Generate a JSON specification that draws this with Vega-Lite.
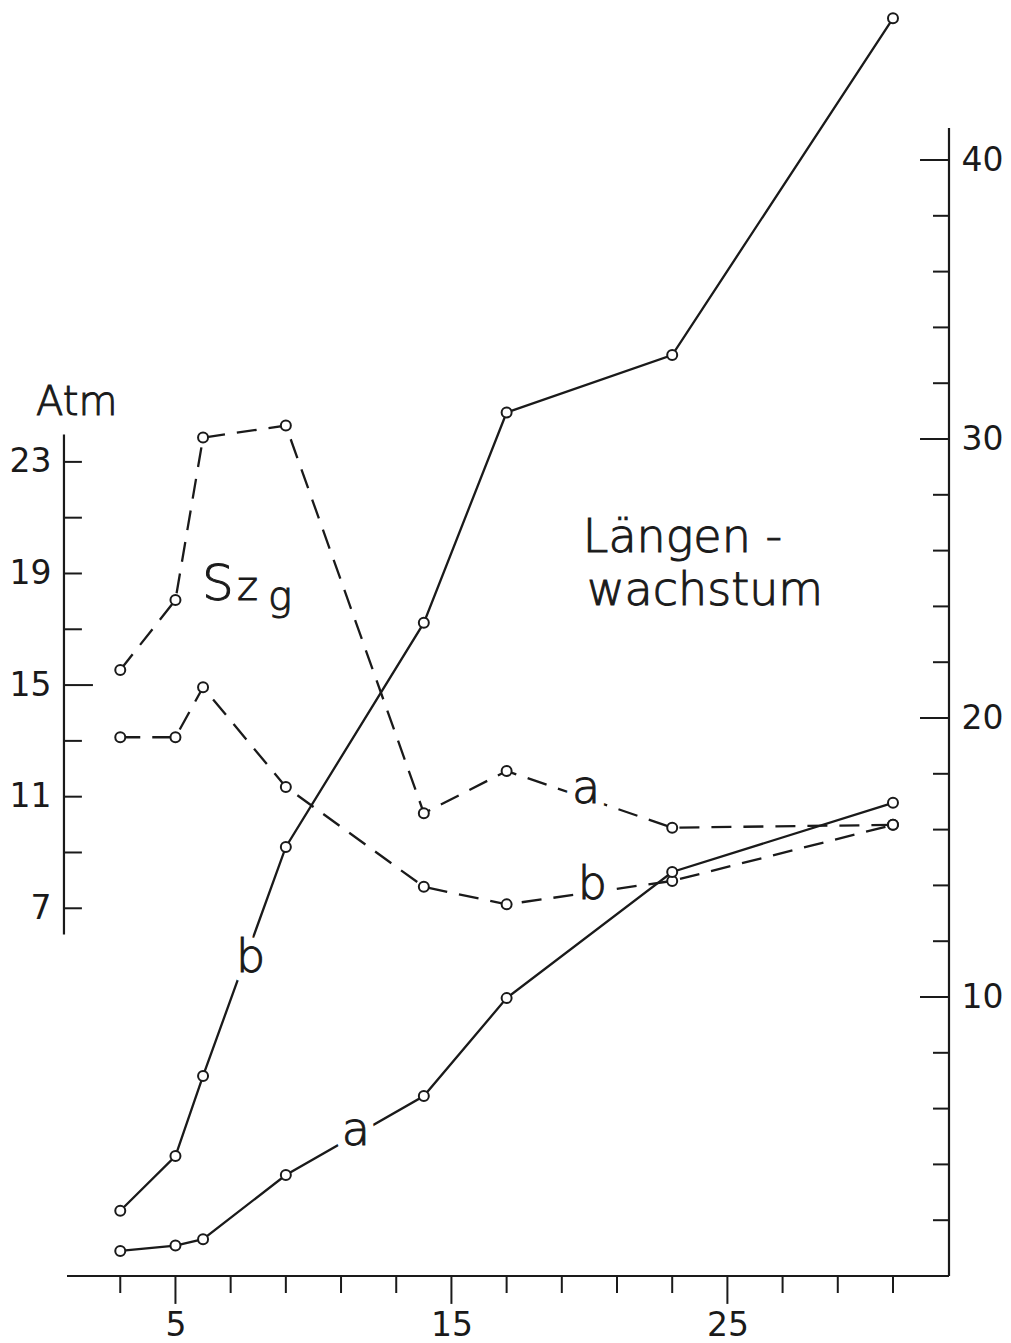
{
  "$schema": "https://vega.github.io/schema/vega-lite/v6.json",
  "autosize": {"type": "none"},
  "width": 882,
  "height": 1270,
  "padding": {"left": 67, "top": 6, "right": 62, "bottom": 67},
  "background": "#ffffff",
  "config": {
    "view": {"stroke": null},
    "axis": {"grid": false, "ticks": false, "tickSize": 0, "domain": false, "labelFont": "DejaVu Sans", "labelFontSize": 33, "labelFontWeight": 400, "labelColor": "#1a1a1a"}
  },
  "datasets": {
    "lw": [
      {"day": 3, "len": 0.90, "series": "a"}, {"day": 5, "len": 1.09, "series": "a"}, {"day": 6, "len": 1.32, "series": "a"}, {"day": 9, "len": 3.62, "series": "a"},
      {"day": 14, "len": 6.45, "series": "a"}, {"day": 17, "len": 9.96, "series": "a"}, {"day": 23, "len": 14.48, "series": "a"}, {"day": 31, "len": 16.96, "series": "a"},
      {"day": 3, "len": 2.34, "series": "b"}, {"day": 5, "len": 4.30, "series": "b"}, {"day": 6, "len": 7.17, "series": "b"}, {"day": 9, "len": 15.38, "series": "b"},
      {"day": 14, "len": 23.41, "series": "b"}, {"day": 17, "len": 30.95, "series": "b"}, {"day": 23, "len": 33.01, "series": "b"}, {"day": 31, "len": 45.08, "series": "b"}
    ],
    "szg": [
      {"day": 3, "atm": 15.54, "series": "a"}, {"day": 5, "atm": 18.05, "series": "a"}, {"day": 6, "atm": 23.87, "series": "a"}, {"day": 9, "atm": 24.30, "series": "a"},
      {"day": 14, "atm": 10.41, "series": "a"}, {"day": 17, "atm": 11.92, "series": "a"}, {"day": 23, "atm": 9.89, "series": "a"}, {"day": 31, "atm": 9.99, "series": "a"},
      {"day": 3, "atm": 13.13, "series": "b"}, {"day": 5, "atm": 13.13, "series": "b"}, {"day": 6, "atm": 14.92, "series": "b"}, {"day": 9, "atm": 11.35, "series": "b"},
      {"day": 14, "atm": 7.77, "series": "b"}, {"day": 17, "atm": 7.14, "series": "b"}, {"day": 23, "atm": 7.98, "series": "b"}, {"day": 31, "atm": 9.99, "series": "b"}
    ],
    "xt": [{"t": 3}, {"t": 5}, {"t": 7}, {"t": 9}, {"t": 11}, {"t": 13}, {"t": 15}, {"t": 17}, {"t": 19}, {"t": 21}, {"t": 23}, {"t": 25}, {"t": 27}, {"t": 29}, {"t": 31}],
    "rt": [{"t": 2}, {"t": 4}, {"t": 6}, {"t": 8}, {"t": 10}, {"t": 12}, {"t": 14}, {"t": 16}, {"t": 18}, {"t": 20}, {"t": 22}, {"t": 24}, {"t": 26}, {"t": 28}, {"t": 30}, {"t": 32}, {"t": 34}, {"t": 36}, {"t": 38}, {"t": 40}],
    "lt": [{"t": 7}, {"t": 9}, {"t": 11}, {"t": 13}, {"t": 15}, {"t": 17}, {"t": 19}, {"t": 21}, {"t": 23}],
    "notes": [
      {"label": "Atm", "x": -0.05, "y": 30.86},
      {"label": "S", "x": 5.96, "y": 24.23},
      {"label": "z", "x": 7.23, "y": 24.23},
      {"label": "g", "x": 8.35, "y": 23.87},
      {"label": "Längen -", "x": 19.76, "y": 25.95},
      {"label": "wachstum", "x": 19.91, "y": 24.05}
    ],
    "tags": [
      {"label": "a", "x": 19.37, "y": 16.95},
      {"label": "b", "x": 19.58, "y": 13.51},
      {"label": "b", "x": 7.19, "y": 10.90},
      {"label": "a", "x": 11.03, "y": 4.70}
    ]
  },
  "layer": [
    {
      "layer": [
        {
          "data": {"name": "szg"},
          "mark": {"type": "line", "strokeDash": [20, 12], "strokeWidth": 2.3, "color": "#1a1a1a"},
          "encoding": {
            "x": {"field": "day", "type": "quantitative", "scale": {"domain": [1.07, 33.03], "nice": false, "zero": false},
                  "axis": {"orient": "bottom", "values": [5, 15, 25], "labelPadding": 49, "labelBaseline": "middle", "title": null, "labelFlush": false, "labelOverlap": false}},
            "y": {"field": "atm", "type": "quantitative", "scale": {"domain": [-6.18, 39.34], "nice": false, "zero": false},
                  "axis": {"orient": "left", "values": [7, 11, 15, 19, 23], "labelPadding": 16, "labelBaseline": "middle", "title": null, "labelFlush": false, "labelOverlap": false}},
            "detail": {"field": "series"}
          }
        },
        {
          "data": {"name": "szg"},
          "mark": {"type": "point", "shape": "circle", "size": 100, "filled": true, "fill": "#ffffff", "stroke": "#1a1a1a", "strokeWidth": 2, "opacity": 1},
          "encoding": {
            "x": {"field": "day", "type": "quantitative", "scale": {"domain": [1.07, 33.03], "nice": false, "zero": false},
                  "axis": {"orient": "bottom", "values": [5, 15, 25], "labelPadding": 49, "labelBaseline": "middle", "title": null, "labelFlush": false, "labelOverlap": false}},
            "y": {"field": "atm", "type": "quantitative", "scale": {"domain": [-6.18, 39.34], "nice": false, "zero": false},
                  "axis": {"orient": "left", "values": [7, 11, 15, 19, 23], "labelPadding": 16, "labelBaseline": "middle", "title": null, "labelFlush": false, "labelOverlap": false}}
          }
        },
        {
          "data": {"values": [{}]},
          "mark": {"type": "rule", "strokeWidth": 2.2, "color": "#1a1a1a"},
          "encoding": {
            "x": {"datum": 0.96, "type": "quantitative", "scale": {"domain": [1.07, 33.03], "nice": false, "zero": false},
                  "axis": {"orient": "bottom", "values": [5, 15, 25], "labelPadding": 49, "labelBaseline": "middle", "title": null, "labelFlush": false, "labelOverlap": false}},
            "y": {"datum": 6.06, "type": "quantitative", "scale": {"domain": [-6.18, 39.34], "nice": false, "zero": false},
                  "axis": {"orient": "left", "values": [7, 11, 15, 19, 23], "labelPadding": 16, "labelBaseline": "middle", "title": null, "labelFlush": false, "labelOverlap": false}},
            "y2": {"datum": 23.98}
          }
        },
        {
          "data": {"name": "lt"},
          "transform": [{"filter": "datum.t != 15"}],
          "mark": {"type": "rule", "strokeWidth": 2, "color": "#1a1a1a"},
          "encoding": {
            "x": {"datum": 0.96, "type": "quantitative", "scale": {"domain": [1.07, 33.03], "nice": false, "zero": false},
                  "axis": {"orient": "bottom", "values": [5, 15, 25], "labelPadding": 49, "labelBaseline": "middle", "title": null, "labelFlush": false, "labelOverlap": false}},
            "x2": {"datum": 1.61},
            "y": {"field": "t", "type": "quantitative", "scale": {"domain": [-6.18, 39.34], "nice": false, "zero": false},
                  "axis": {"orient": "left", "values": [7, 11, 15, 19, 23], "labelPadding": 16, "labelBaseline": "middle", "title": null, "labelFlush": false, "labelOverlap": false}}
          }
        },
        {
          "data": {"name": "lt"},
          "transform": [{"filter": "datum.t == 15"}],
          "mark": {"type": "rule", "strokeWidth": 2, "color": "#1a1a1a"},
          "encoding": {
            "x": {"datum": 0.96, "type": "quantitative", "scale": {"domain": [1.07, 33.03], "nice": false, "zero": false},
                  "axis": {"orient": "bottom", "values": [5, 15, 25], "labelPadding": 49, "labelBaseline": "middle", "title": null, "labelFlush": false, "labelOverlap": false}},
            "x2": {"datum": 2.01},
            "y": {"field": "t", "type": "quantitative", "scale": {"domain": [-6.18, 39.34], "nice": false, "zero": false},
                  "axis": {"orient": "left", "values": [7, 11, 15, 19, 23], "labelPadding": 16, "labelBaseline": "middle", "title": null, "labelFlush": false, "labelOverlap": false}}
          }
        }
      ]
    },
    {
      "layer": [
        {
          "data": {"name": "lw"},
          "mark": {"type": "line", "strokeWidth": 2.3, "color": "#1a1a1a"},
          "encoding": {
            "x": {"field": "day", "type": "quantitative", "scale": {"domain": [1.07, 33.03], "nice": false, "zero": false},
                  "axis": {"orient": "bottom", "values": [5, 15, 25], "labelPadding": 49, "labelBaseline": "middle", "title": null, "labelFlush": false, "labelOverlap": false}},
            "y": {"field": "len", "type": "quantitative", "scale": {"domain": [0, 45.52], "nice": false, "zero": false},
                  "axis": {"orient": "right", "values": [10, 20, 30, 40], "labelPadding": 12, "labelBaseline": "middle", "title": null, "labelFlush": false, "labelOverlap": false}},
            "detail": {"field": "series"}
          }
        },
        {
          "data": {"name": "lw"},
          "mark": {"type": "point", "shape": "circle", "size": 100, "filled": true, "fill": "#ffffff", "stroke": "#1a1a1a", "strokeWidth": 2, "opacity": 1},
          "encoding": {
            "x": {"field": "day", "type": "quantitative", "scale": {"domain": [1.07, 33.03], "nice": false, "zero": false},
                  "axis": {"orient": "bottom", "values": [5, 15, 25], "labelPadding": 49, "labelBaseline": "middle", "title": null, "labelFlush": false, "labelOverlap": false}},
            "y": {"field": "len", "type": "quantitative", "scale": {"domain": [0, 45.52], "nice": false, "zero": false},
                  "axis": {"orient": "right", "values": [10, 20, 30, 40], "labelPadding": 12, "labelBaseline": "middle", "title": null, "labelFlush": false, "labelOverlap": false}}
          }
        },
        {
          "data": {"values": [{}]},
          "mark": {"type": "rule", "strokeWidth": 2.2, "color": "#1a1a1a"},
          "encoding": {
            "x": {"datum": 1.07, "type": "quantitative", "scale": {"domain": [1.07, 33.03], "nice": false, "zero": false},
                  "axis": {"orient": "bottom", "values": [5, 15, 25], "labelPadding": 49, "labelBaseline": "middle", "title": null, "labelFlush": false, "labelOverlap": false}},
            "x2": {"datum": 33.03},
            "y": {"datum": 0, "type": "quantitative", "scale": {"domain": [0, 45.52], "nice": false, "zero": false},
                  "axis": {"orient": "right", "values": [10, 20, 30, 40], "labelPadding": 12, "labelBaseline": "middle", "title": null, "labelFlush": false, "labelOverlap": false}}
          }
        },
        {
          "data": {"values": [{}]},
          "mark": {"type": "rule", "strokeWidth": 2.2, "color": "#1a1a1a"},
          "encoding": {
            "x": {"datum": 33.03, "type": "quantitative", "scale": {"domain": [1.07, 33.03], "nice": false, "zero": false},
                  "axis": {"orient": "bottom", "values": [5, 15, 25], "labelPadding": 49, "labelBaseline": "middle", "title": null, "labelFlush": false, "labelOverlap": false}},
            "y": {"datum": 0, "type": "quantitative", "scale": {"domain": [0, 45.52], "nice": false, "zero": false},
                  "axis": {"orient": "right", "values": [10, 20, 30, 40], "labelPadding": 12, "labelBaseline": "middle", "title": null, "labelFlush": false, "labelOverlap": false}},
            "y2": {"datum": 41.15}
          }
        },
        {
          "data": {"name": "rt"},
          "transform": [{"filter": "datum.t % 10 != 0"}],
          "mark": {"type": "rule", "strokeWidth": 2, "color": "#1a1a1a"},
          "encoding": {
            "x": {"datum": 32.45, "type": "quantitative", "scale": {"domain": [1.07, 33.03], "nice": false, "zero": false},
                  "axis": {"orient": "bottom", "values": [5, 15, 25], "labelPadding": 49, "labelBaseline": "middle", "title": null, "labelFlush": false, "labelOverlap": false}},
            "x2": {"datum": 33.03},
            "y": {"field": "t", "type": "quantitative", "scale": {"domain": [0, 45.52], "nice": false, "zero": false},
                  "axis": {"orient": "right", "values": [10, 20, 30, 40], "labelPadding": 12, "labelBaseline": "middle", "title": null, "labelFlush": false, "labelOverlap": false}}
          }
        },
        {
          "data": {"name": "rt"},
          "transform": [{"filter": "datum.t % 10 == 0"}],
          "mark": {"type": "rule", "strokeWidth": 2, "color": "#1a1a1a"},
          "encoding": {
            "x": {"datum": 31.98, "type": "quantitative", "scale": {"domain": [1.07, 33.03], "nice": false, "zero": false},
                  "axis": {"orient": "bottom", "values": [5, 15, 25], "labelPadding": 49, "labelBaseline": "middle", "title": null, "labelFlush": false, "labelOverlap": false}},
            "x2": {"datum": 33.03},
            "y": {"field": "t", "type": "quantitative", "scale": {"domain": [0, 45.52], "nice": false, "zero": false},
                  "axis": {"orient": "right", "values": [10, 20, 30, 40], "labelPadding": 12, "labelBaseline": "middle", "title": null, "labelFlush": false, "labelOverlap": false}}
          }
        },
        {
          "data": {"name": "xt"},
          "transform": [{"filter": "datum.t != 5 && datum.t != 15 && datum.t != 25"}],
          "mark": {"type": "rule", "strokeWidth": 2, "color": "#1a1a1a"},
          "encoding": {
            "x": {"field": "t", "type": "quantitative", "scale": {"domain": [1.07, 33.03], "nice": false, "zero": false},
                  "axis": {"orient": "bottom", "values": [5, 15, 25], "labelPadding": 49, "labelBaseline": "middle", "title": null, "labelFlush": false, "labelOverlap": false}},
            "y": {"datum": 0, "type": "quantitative", "scale": {"domain": [0, 45.52], "nice": false, "zero": false},
                  "axis": {"orient": "right", "values": [10, 20, 30, 40], "labelPadding": 12, "labelBaseline": "middle", "title": null, "labelFlush": false, "labelOverlap": false}},
            "y2": {"datum": -0.61}
          }
        },
        {
          "data": {"name": "xt"},
          "transform": [{"filter": "datum.t == 5 || datum.t == 15 || datum.t == 25"}],
          "mark": {"type": "rule", "strokeWidth": 2, "color": "#1a1a1a"},
          "encoding": {
            "x": {"field": "t", "type": "quantitative", "scale": {"domain": [1.07, 33.03], "nice": false, "zero": false},
                  "axis": {"orient": "bottom", "values": [5, 15, 25], "labelPadding": 49, "labelBaseline": "middle", "title": null, "labelFlush": false, "labelOverlap": false}},
            "y": {"datum": 0, "type": "quantitative", "scale": {"domain": [0, 45.52], "nice": false, "zero": false},
                  "axis": {"orient": "right", "values": [10, 20, 30, 40], "labelPadding": 12, "labelBaseline": "middle", "title": null, "labelFlush": false, "labelOverlap": false}},
            "y2": {"datum": -1.0}
          }
        },
        {
          "data": {"name": "tags"},
          "mark": {"type": "text", "align": "left", "baseline": "alphabetic", "font": "DejaVu Sans", "fontWeight": 200, "fontSize": 46, "fill": "#ffffff", "stroke": "#ffffff", "strokeWidth": 18, "strokeJoin": "round", "strokeOpacity": 1},
          "encoding": {
            "x": {"field": "x", "type": "quantitative", "scale": {"domain": [1.07, 33.03], "nice": false, "zero": false},
                  "axis": {"orient": "bottom", "values": [5, 15, 25], "labelPadding": 49, "labelBaseline": "middle", "title": null, "labelFlush": false, "labelOverlap": false}},
            "y": {"field": "y", "type": "quantitative", "scale": {"domain": [0, 45.52], "nice": false, "zero": false},
                  "axis": {"orient": "right", "values": [10, 20, 30, 40], "labelPadding": 12, "labelBaseline": "middle", "title": null, "labelFlush": false, "labelOverlap": false}},
            "text": {"field": "label"}
          }
        },
        {
          "data": {"name": "tags"},
          "mark": {"type": "text", "align": "left", "baseline": "alphabetic", "font": "DejaVu Sans", "fontWeight": 200, "fontSize": 46, "fill": "#1a1a1a", "stroke": "#1a1a1a", "strokeWidth": 1},
          "encoding": {
            "x": {"field": "x", "type": "quantitative", "scale": {"domain": [1.07, 33.03], "nice": false, "zero": false},
                  "axis": {"orient": "bottom", "values": [5, 15, 25], "labelPadding": 49, "labelBaseline": "middle", "title": null, "labelFlush": false, "labelOverlap": false}},
            "y": {"field": "y", "type": "quantitative", "scale": {"domain": [0, 45.52], "nice": false, "zero": false},
                  "axis": {"orient": "right", "values": [10, 20, 30, 40], "labelPadding": 12, "labelBaseline": "middle", "title": null, "labelFlush": false, "labelOverlap": false}},
            "text": {"field": "label"}
          }
        },
        {
          "data": {"name": "notes"},
          "mark": {"type": "text", "align": "left", "baseline": "alphabetic", "font": "DejaVu Sans", "fontWeight": 200, "fill": "#1a1a1a", "stroke": "#1a1a1a", "strokeWidth": 1},
          "encoding": {
            "x": {"field": "x", "type": "quantitative", "scale": {"domain": [1.07, 33.03], "nice": false, "zero": false},
                  "axis": {"orient": "bottom", "values": [5, 15, 25], "labelPadding": 49, "labelBaseline": "middle", "title": null, "labelFlush": false, "labelOverlap": false}},
            "y": {"field": "y", "type": "quantitative", "scale": {"domain": [0, 45.52], "nice": false, "zero": false},
                  "axis": {"orient": "right", "values": [10, 20, 30, 40], "labelPadding": 12, "labelBaseline": "middle", "title": null, "labelFlush": false, "labelOverlap": false}},
            "text": {"field": "label"},
            "size": {"condition": [{"test": "datum.label === 'Atm' || datum.label === 'g'", "value": 40}, {"test": "datum.label === 'S'", "value": 50}, {"test": "datum.label === 'z'", "value": 40}], "value": 46}
          }
        }
      ]
    }
  ],
  "resolve": {"scale": {"y": "independent"}}
}
